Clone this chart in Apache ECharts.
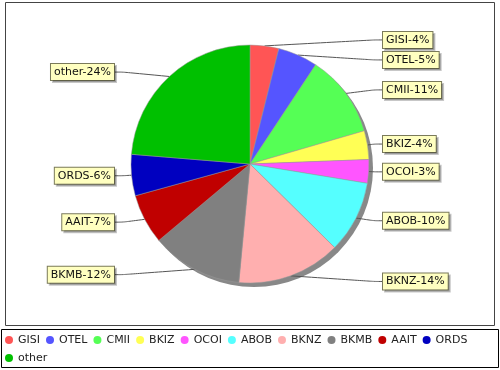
<!DOCTYPE html>
<html>
<head>
<meta charset="utf-8">
<script src="https://cdn.jsdelivr.net/npm/echarts@6/dist/echarts.min.js"></script>
<style>html,body{margin:0;padding:0;background:#fff}#c{width:500px;height:370px}</style>
</head>
<body>
<div id="c"></div>
<script>
const categories = ['GISI','OTEL','CMII','BKIZ','OCOI','ABOB','BKNZ','BKMB','AAIT','ORDS','other'];
const shares = [3.9, 5.4, 11.2, 3.9, 3.2, 9.8, 14.1, 12.4, 6.8, 5.6, 23.7];
const colors = ['#FF5555','#5555FF','#55FF55','#FFFF55','#FF55FF','#55FFFF','#FFAFAF','#808080','#C00000','#0000C0','#00C000'];

const FONT = 'DejaVu Sans';
const CX = 250, CY = 164, R = 119;
const chart = echarts.init(document.getElementById('c'), null, {renderer:'canvas'});
chart.setOption({
  animation: false,
  backgroundColor: '#fff',
  color: colors,
  textStyle: {fontFamily: FONT},
  graphic: [
    {type:'rect', shape:{x:5.5,y:2.5,width:489,height:323}, style:{fill:'none', stroke:'#444', lineWidth:1}, z:-1},
    {type:'rect', shape:{x:1.5,y:329.5,width:497,height:38}, style:{fill:'none', stroke:'#000', lineWidth:1}, z:-1}
  ],
  legend: {
    data: categories,
    left: 5, top: 334, width: 480,
    orient: 'horizontal',
    icon: 'circle', itemWidth: 8, itemHeight: 8, itemGap: 6,
    padding: 0,
    textStyle: {fontFamily: FONT, fontSize: 11, color: '#222', lineHeight: 12},
    itemStyle: {borderWidth: 0}
  },
  series: [
    {
      type: 'pie', name: 'shadow', silent: true,
      center: [CX + 4, CY + 4], radius: R,
      data: [{value: 1, name: '__shadow'}],
      itemStyle: {color: '#888'},
      label: {show: false}, labelLine: {show: false},
      emphasis: {disabled: true}, z: 1
    },
    {
      type: 'pie', name: 'share',
      center: [CX, CY], radius: R,
      startAngle: 90, clockwise: true,
      data: categories.map((n, i) => ({name: n, value: shares[i]})),
      itemStyle: {borderColor: '#999', borderWidth: 0.5},
      avoidLabelOverlap: true,
      label: {
        show: true, position: 'outside',
        formatter: p => p.name + '-' + Math.round(p.percent) + '%',
        fontFamily: FONT, fontSize: 11, color: '#111',
        backgroundColor: '#FFFFC0', borderColor: '#7a7a5a', borderWidth: 1,
        padding: [3, 3, 2, 3],
        shadowColor: 'rgba(0,0,0,0.22)', shadowOffsetX: 2, shadowOffsetY: 2, shadowBlur: 0
      },
      labelLine: {show: true, length: 6, length2: 8, smooth: 0.3, lineStyle: {color: '#555', width: 1}},
      labelLayout: function (p) {
        const isRight = p.labelRect.x + p.labelRect.width / 2 > CX;
        return {x: isRight ? CX + R + 14 : CX - R - 17, align: isRight ? 'left' : 'right'};
      },
      emphasis: {disabled: true}, z: 2
    }
  ]
});
</script>
</body>
</html>
